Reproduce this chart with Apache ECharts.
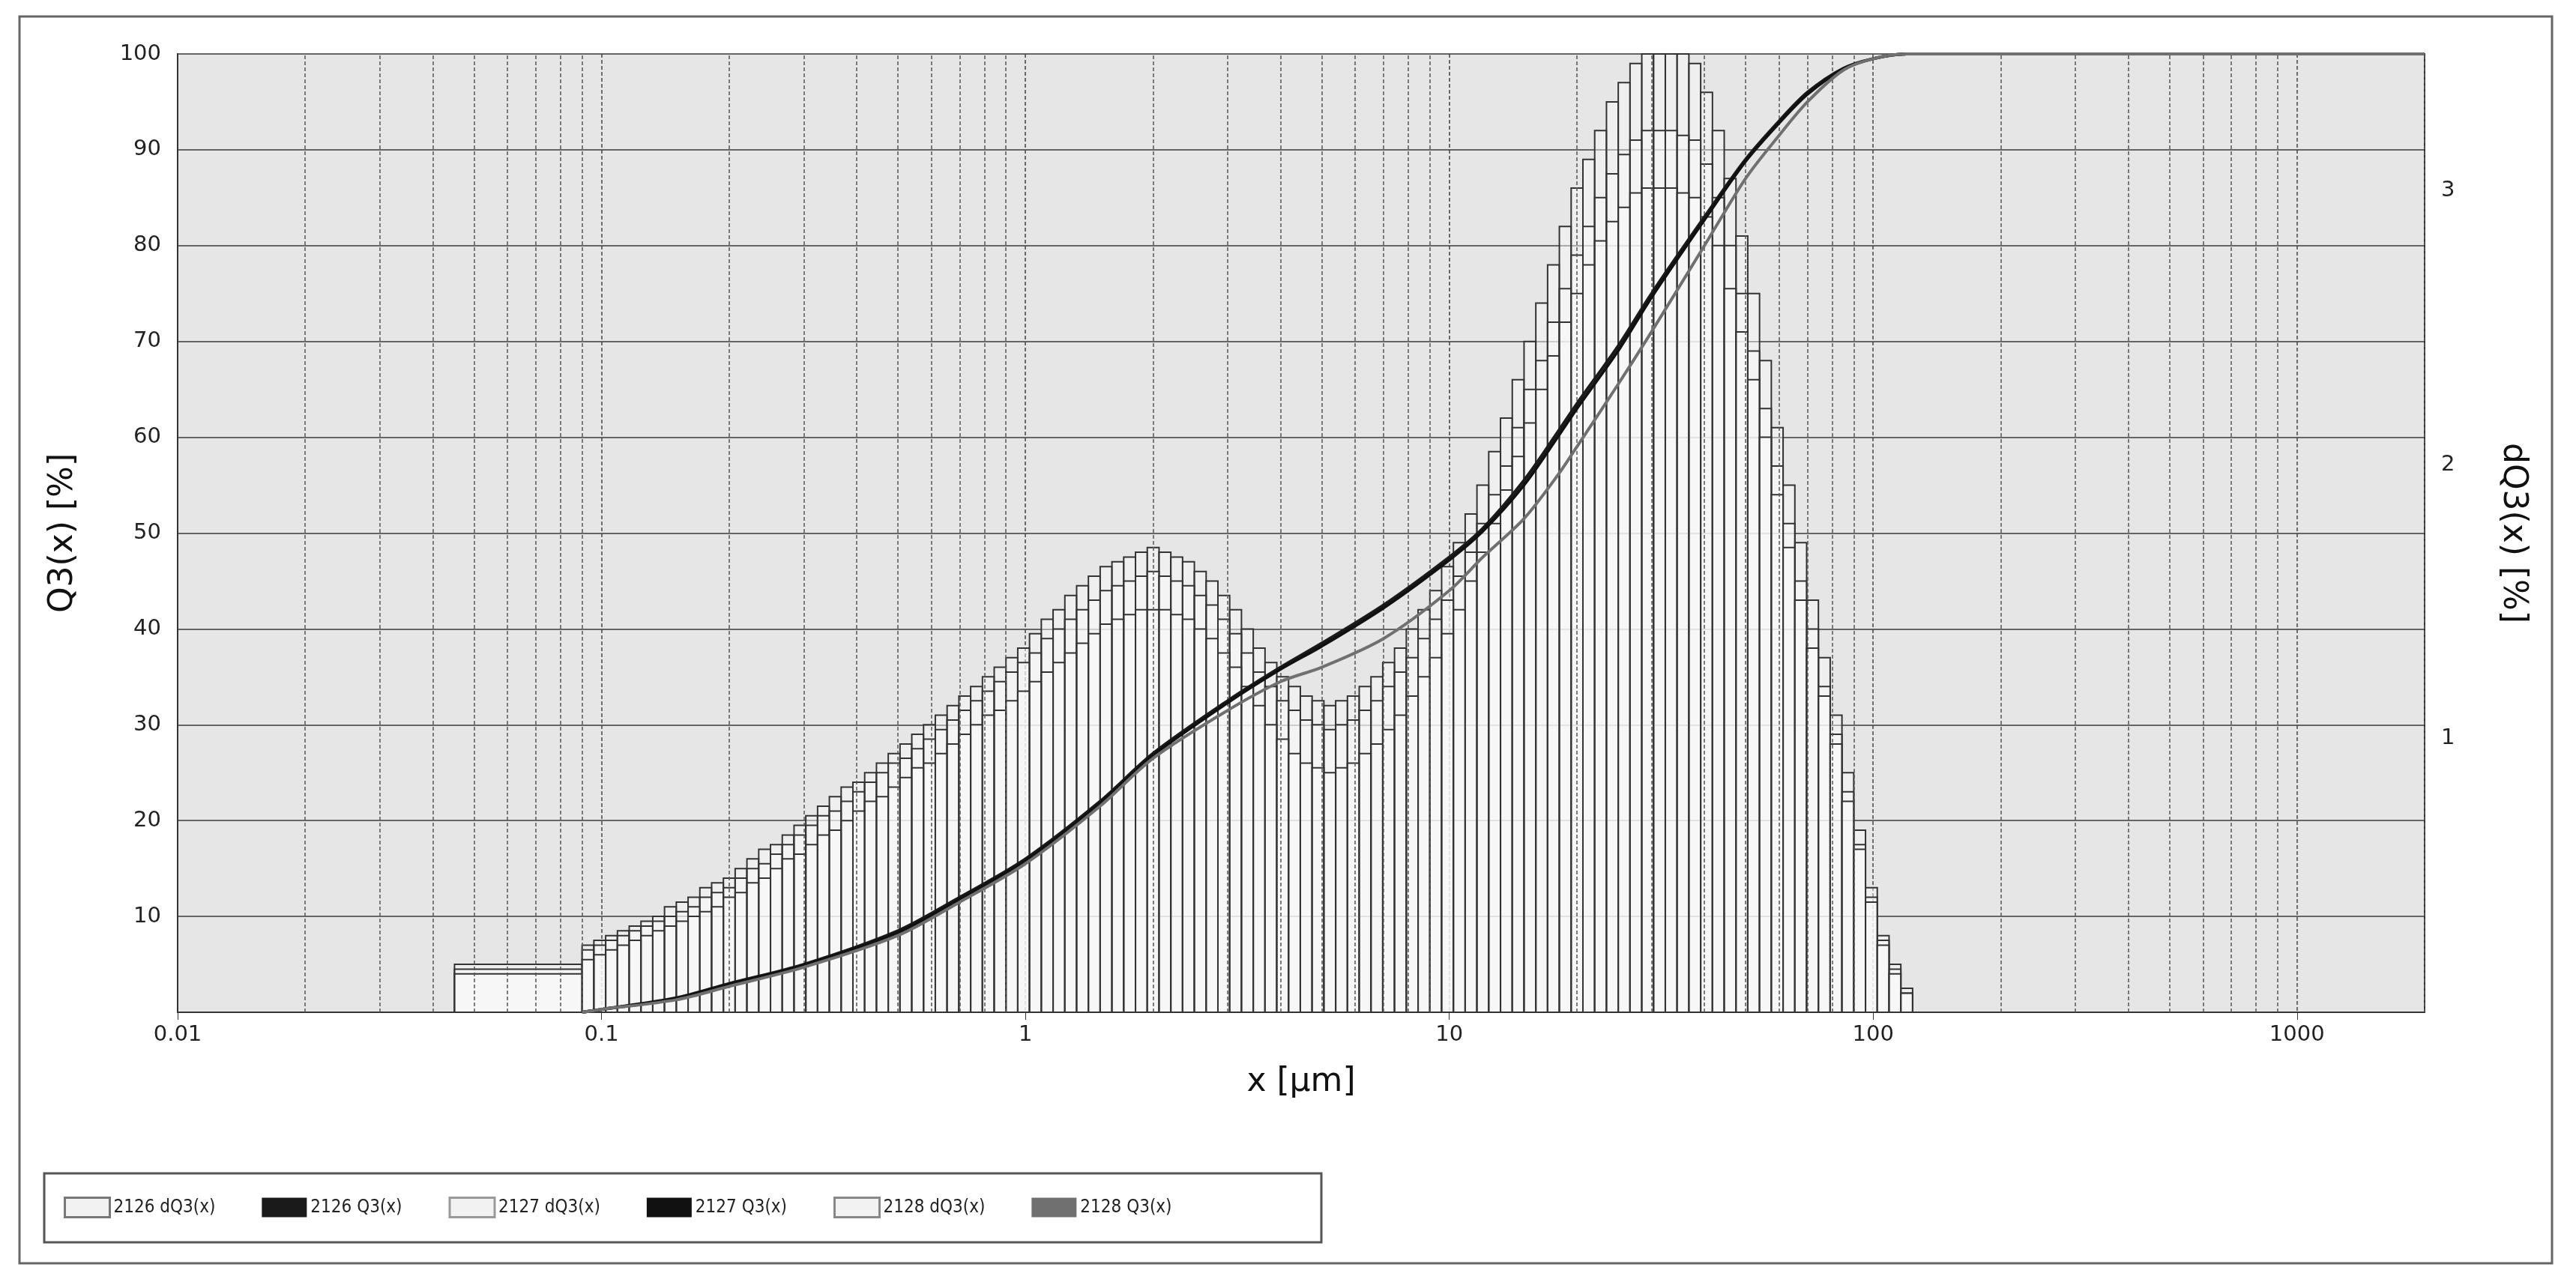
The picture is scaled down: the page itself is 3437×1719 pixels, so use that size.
<!DOCTYPE html>
<html>
<head>
<meta charset="utf-8">
<script src="https://cdn.jsdelivr.net/npm/echarts@6/dist/echarts.min.js"></script>
<style>
  html, body { margin: 0; padding: 0; background: #fff; }
  #chart { width: 3437px; height: 1719px; }
</style>
</head>
<body>
<div id="chart"></div>
<script>
"use strict";

// x axis decade labels
const xTicks = [0.01, 0.1, 1, 10, 100, 1000];
const minorGrid = [];
for (const d of [0.01, 0.1, 1, 10, 100, 1000]) {
  for (let k = 2; k <= 9; k++) if (d * k <= 2000) minorGrid.push(+(d * k).toPrecision(3));
}

// histogram bins: one wide bin 0.045-0.09, then 36 bins per decade from 0.09
const binStart = 0.09;
const binsPerDecade = 36;
const wideBin = [0.045, 0.09];

// dQ3 bar heights, read in units of the left axis (100 = 3.5 on the right axis)
const dq3_2126 = [
  7,7.5,8,8.5,9,9.5,10,11,11.5,12,13,13.5,
  14,15,16,17,17.5,18.5,19.5,20.5,21.5,22.5,23.5,24,
  25,26,27,28,29,30,31,32,33,34,35,36,
  37,38,39.5,41,42,43.5,44.5,45.5,46.5,47,47.5,48,
  48.5,48,47.5,47,46,45,43.5,42,40,38,36.5,35,
  34,33,32.5,32,32.5,33,34,35,36.5,38,40,42,
  44,46.5,49,52,55,58.5,62,66,70,74,78,82,
  86,89,92,95,97,99,100,100,100,100,99,96,
  92,87,81,75,68,61,55,49,43,37,31,25,
  19,13,8,5,2.5
];
const dq3_2127 = [
  6.5,7,7.5,8,8.5,9,9.5,10,10.5,11,12,12.5,
  13,14,15,15.5,16.5,17.5,18.5,19.5,20.5,21,22,23,
  24,25,26,26.5,27.5,28.5,29.5,30.5,31.5,32.5,33.5,34.5,
  35.5,36.5,37.5,39,40,41,42,43,44,44.5,45,45.5,
  46,45.5,45,44.5,43.5,42.5,41,39.5,37.5,35.5,34,32.5,
  31.5,30.5,30,29.5,30,30.5,31.5,32.5,34,35.5,37,39,
  41,43,45.5,48,51,54,57,61,65,68,72,75.5,
  79,82,85,87.5,89.5,91,92,92,92,91.5,91,88.5,
  85,80,75,69,63,57,51,45,40,34,29,23,
  17.5,12,7.5,4.5,2
];
const dq3_2128 = [
  5.5,6,6.5,7,7.5,8,8.5,9,9.5,10,10.5,11,
  12,12.5,13.5,14,15,16,16.5,17.5,18.5,19,20,21,
  22,22.5,23.5,24.5,25.5,26,27,28,29,30,31,31.5,
  32.5,33.5,34.5,35.5,36.5,37.5,38.5,39.5,40.5,41,41.5,42,
  42,42,41.5,41,40,39,37.5,36,34,32,30,28.5,
  27,26,25.5,25,25.5,26,27,28,29.5,31,33,35,
  37,39.5,42,45,48,51,54.5,58,61.5,65,68.5,72,
  75,78,80.5,82.5,84,85.5,86,86,86,85.5,85,83,
  80,75.5,71,66,60,54,48.5,43,38,33,28,22,
  17,11.5,7,4,2
];
const wide_2126 = 5;
const wide_2127 = 4.5;
const wide_2128 = 4;

// cumulative Q3 curves [x, Q3 %]
const q3_2126 = [[0.09,0],[0.1,0.3],[0.15,1.5],[0.2,3],[0.3,5],[0.5,8.5],[0.7,12],[1,16],[1.5,22],[2,27],[3,32.5],[4,36],[5,38.5],[7,42.5],[10,47.5],[12,50.5],[15,55.5],[18,60.5],[20,63.5],[25,69.5],[30,75],[40,83],[50,89],[60,93],[70,96],[85,98.5],[100,99.5],[120,100],[2000,100]];
const q3_2127 = [[0.09,0],[0.1,0.3],[0.15,1.4],[0.2,2.9],[0.3,4.9],[0.5,8.3],[0.7,11.8],[1,15.8],[1.5,21.8],[2,26.8],[3,32.3],[4,35.8],[5,38.2],[7,42.2],[10,47.2],[12,50.2],[15,55],[18,60],[20,63],[25,69],[30,74.6],[40,82.7],[50,88.8],[60,92.8],[70,95.8],[85,98.4],[100,99.5],[120,100],[2000,100]];
const q3_2128 = [[0.09,0],[0.1,0.3],[0.15,1.3],[0.2,2.7],[0.3,4.7],[0.5,8],[0.7,11.5],[1,15.5],[1.5,21.5],[2,26.5],[3,31.5],[4,34.5],[5,36],[7,39],[10,44],[12,47.5],[15,51.5],[18,56],[20,59],[25,65.5],[30,71],[40,80],[50,87],[60,91.5],[70,95],[85,98.3],[100,99.5],[120,100],[2000,100]];

const names = ["2126", "2127", "2128"];
const dq3Sets = [dq3_2126, dq3_2127, dq3_2128];
const wideSets = [wide_2126, wide_2127, wide_2128];
const q3Sets = [q3_2126, q3_2127, q3_2128];
const lineColors = ["#1a1a1a", "#111111", "#707070"];

function binRows(vals, wide) {
  const r = Math.pow(10, 1 / binsPerDecade);
  const rows = [[wideBin[0], wideBin[1], wide]];
  vals.forEach((v, i) => rows.push([binStart * Math.pow(r, i), binStart * Math.pow(r, i + 1), v]));
  return rows;
}

const chart = echarts.init(document.getElementById("chart"));

const series = [];
names.forEach((n, s) => {
  series.push({
    name: n + " dQ3(x)",
    type: "custom",
    yAxisIndex: 0,
    data: binRows(dq3Sets[s], wideSets[s]),
    encode: { x: [0, 1], y: 2 },
    itemStyle: { color: "rgba(245,245,245,0.55)", borderColor: "#3a3a3a" },
    renderItem: (params, api) => {
      const p0 = api.coord([api.value(0), api.value(2)]);
      const p1 = api.coord([api.value(1), 0]);
      return {
        type: "rect",
        shape: { x: p0[0], y: p0[1], width: p1[0] - p0[0], height: p1[1] - p0[1] },
        style: { fill: "rgba(250,250,250,0.45)", stroke: "#333", lineWidth: 2 }
      };
    },
    z: 3
  });
});
names.forEach((n, s) => {
  series.push({
    name: n + " Q3(x)",
    type: "line",
    yAxisIndex: 0,
    data: q3Sets[s],
    smooth: 0.3,
    showSymbol: false,
    lineStyle: { color: lineColors[s], width: 4 },
    itemStyle: { color: lineColors[s] },
    z: 5
  });
});
// minor vertical grid
series.push({
  type: "line",
  data: [],
  silent: true,
  markLine: {
    silent: true,
    symbol: "none",
    label: { show: false },
    lineStyle: { color: "#555", width: 1.5, type: [5, 3] },
    data: minorGrid.map((v) => ({ xAxis: v }))
  }
});

chart.setOption({
  animation: false,
  backgroundColor: "#fff",
  textStyle: { fontFamily: "DejaVu Sans" },
  grid: { left: 237, right: 202, top: 72, bottom: 368, backgroundColor: "#e6e6e6", show: true, borderColor: "#444", borderWidth: 2 },
  legend: {
    left: 80, top: 1592,
    itemWidth: 60, itemHeight: 26, itemGap: 62,
    textStyle: { fontSize: 24, fontFamily: "Liberation Sans Narrow, DejaVu Sans Condensed", color: "#222" },
    data: [
      { name: "2126 dQ3(x)", icon: "rect", itemStyle: { color: "#f2f2f2", borderColor: "#777", borderWidth: 3 } },
      { name: "2126 Q3(x)", icon: "rect", itemStyle: { color: "#1a1a1a" } },
      { name: "2127 dQ3(x)", icon: "rect", itemStyle: { color: "#f2f2f2", borderColor: "#999", borderWidth: 3 } },
      { name: "2127 Q3(x)", icon: "rect", itemStyle: { color: "#111" } },
      { name: "2128 dQ3(x)", icon: "rect", itemStyle: { color: "#f2f2f2", borderColor: "#888", borderWidth: 3 } },
      { name: "2128 Q3(x)", icon: "rect", itemStyle: { color: "#707070" } }
    ]
  },
  graphic: [
    { type: "rect", shape: { x: 26, y: 22, width: 3379, height: 1664 }, style: { fill: "none", stroke: "#666", lineWidth: 3 }, silent: true },
    { type: "rect", shape: { x: 59, y: 1566, width: 1704, height: 92 }, style: { fill: "none", stroke: "#555", lineWidth: 3 }, silent: true }
  ],
  xAxis: {
    type: "log", logBase: 10, min: 0.01, max: 2000,
    name: "x [µm]", nameLocation: "middle", nameGap: 72,
    nameTextStyle: { fontSize: 44, color: "#111" },
    axisLine: { lineStyle: { color: "#333", width: 2 } },
    axisTick: { show: true, length: 10, lineStyle: { color: "#333" } },
    axisLabel: {
      fontSize: 29, color: "#222", margin: 16, showMaxLabel: false,
      formatter: (v) => (xTicks.some((t) => Math.abs(t - v) / t < 1e-6) ? String(+v.toPrecision(3)) : "")
    },
    splitLine: { show: true, lineStyle: { color: "#444", width: 1.5, type: [5, 3] } }
  },
  yAxis: [
    {
      type: "value", min: 0, max: 100, interval: 10,
      name: "Q3(x) [%]", nameLocation: "middle", nameGap: 130, nameRotate: 90,
      nameTextStyle: { fontSize: 44, color: "#111" },
      axisLine: { show: true, lineStyle: { color: "#333", width: 2 } },
      axisTick: { show: false },
      axisLabel: { fontSize: 29, color: "#222", margin: 22, formatter: (v) => (v === 0 ? "" : v) },
      splitLine: { show: true, lineStyle: { color: "#666", width: 2 } }
    },
    {
      type: "value", min: 0, max: 3.5, interval: 1,
      name: "dQ3(x) [%]", nameLocation: "middle", nameGap: 95, nameRotate: -90,
      nameTextStyle: { fontSize: 44, color: "#111" },
      axisLine: { show: true, lineStyle: { color: "#333", width: 2 } },
      axisTick: { show: false },
      axisLabel: { fontSize: 29, color: "#222", margin: 22, formatter: (v) => (v === 0 || v % 1 ? "" : v) },
      splitLine: { show: false }
    }
  ],
  series
});
</script>
</body>
</html>
